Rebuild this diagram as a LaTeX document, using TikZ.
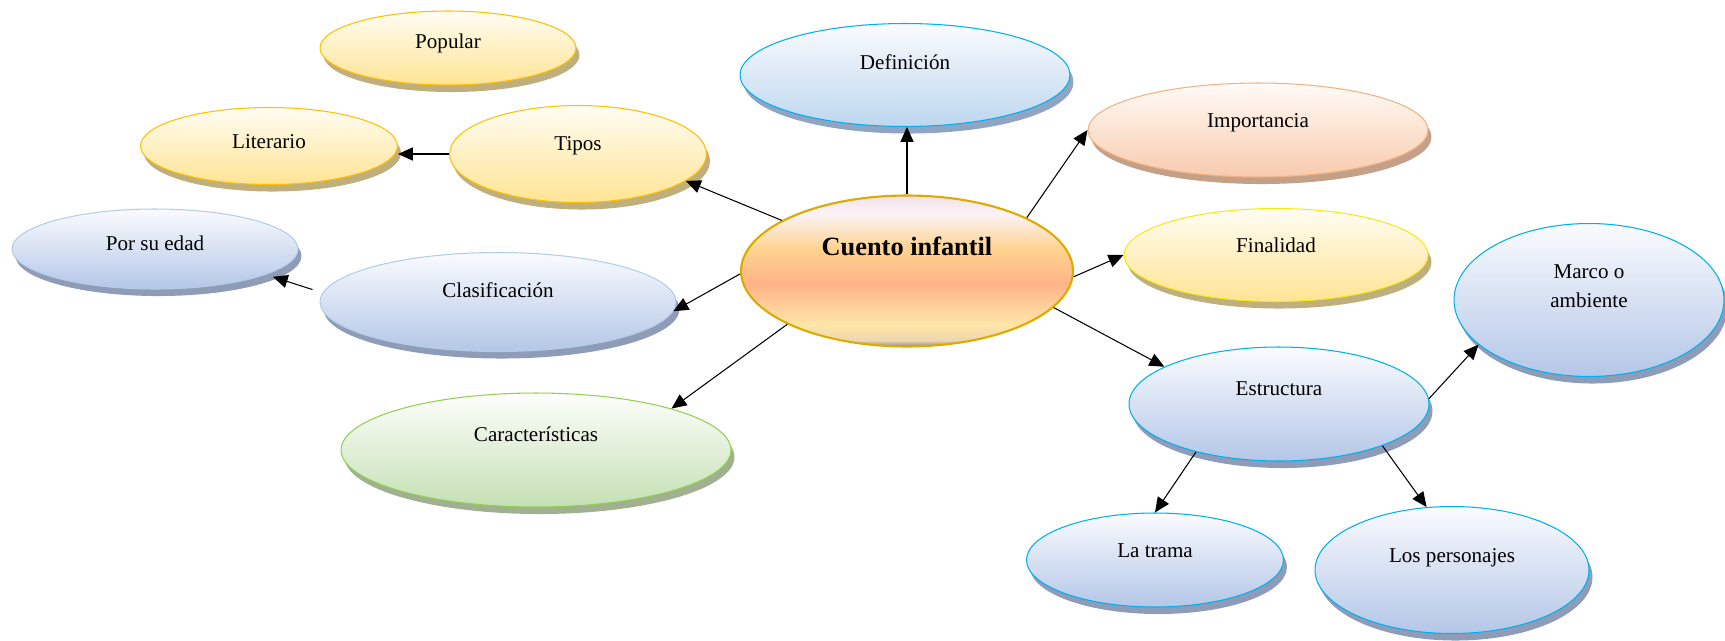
\documentclass[tikz,border=0pt]{standalone}
\usepackage{fontspec}
\setmainfont{Liberation Serif}
\usetikzlibrary{shapes.geometric,shadows,arrows.meta}

\definecolor{ytop}{RGB}{255,253,243}
\definecolor{ybot}{RGB}{255,228,148}
\definecolor{ybord}{RGB}{255,192,0}
\definecolor{yline}{RGB}{245,235,20}
\definecolor{yshad}{RGB}{190,175,125}
\definecolor{btop}{RGB}{250,251,254}
\definecolor{bbot}{RGB}{180,199,231}
\definecolor{bbord}{RGB}{0,176,240}
\definecolor{bpale}{RGB}{180,205,230}
\definecolor{bshad}{RGB}{142,156,184}
\definecolor{dbot}{RGB}{189,215,238}
\definecolor{dshad}{RGB}{143,165,195}
\definecolor{otop}{RGB}{255,251,247}
\definecolor{obot}{RGB}{248,203,173}
\definecolor{obord}{RGB}{244,177,131}
\definecolor{oshad}{RGB}{196,160,136}
\definecolor{gtop}{RGB}{253,254,252}
\definecolor{gbot}{RGB}{197,224,180}
\definecolor{gbord}{RGB}{146,208,80}
\definecolor{gshad}{RGB}{160,176,144}
\definecolor{cborder}{RGB}{222,170,0}
\definecolor{cu1}{RGB}{150,136,136}
\definecolor{cu2}{RGB}{236,214,178}
\definecolor{cu3}{RGB}{255,230,168}
\definecolor{cu4}{RGB}{255,179,136}
\definecolor{cu5}{RGB}{255,210,142}
\definecolor{cu6}{RGB}{251,243,247}
\definecolor{cu7}{RGB}{240,226,234}

\pgfdeclareverticalshading{cuentofill}{100bp}{color(0bp)=(cu1); color(25bp)=(cu1); color(27bp)=(cu2); color(32bp)=(cu3); color(46bp)=(cu4); color(57bp)=(cu5); color(69bp)=(cu6); color(75bp)=(cu7); color(100bp)=(cu7)}

\tikzset{
    bubble/.style={ellipse, inner sep=0pt, line width=0.6pt},
    yellowbub/.style={bubble, draw=ybord, top color=ytop, bottom color=ybot, general shadow={fill=yshad, shadow xshift=2pt, shadow yshift=-4pt}},
    bluebub/.style={bubble, draw=bbord, top color=btop, bottom color=bbot, general shadow={fill=bshad, shadow xshift=2pt, shadow yshift=-4pt}},
    defbub/.style={bubble, draw=bbord, top color=btop, bottom color=dbot, general shadow={fill=dshad, shadow xshift=2pt, shadow yshift=-4pt}},
    orangebub/.style={bubble, draw=obord, top color=otop, bottom color=obot, general shadow={fill=oshad, shadow xshift=2pt, shadow yshift=-4pt}},
    greenbub/.style={bubble, draw=gbord, top color=gtop, bottom color=gbot, general shadow={fill=gshad, shadow xshift=2pt, shadow yshift=-4pt}},
    centerbub/.style={ellipse, inner sep=0pt, draw=cborder, line width=1.2pt, shading=cuentofill},
    link/.style={line width=0.6pt, -{Triangle[length=8.5pt, width=7.5pt]}}
}

\begin{document}
\begin{tikzpicture}[x=0.02cm, y=-0.02cm, font=\fontsize{12}{16.5}\selectfont]
        \useasboundingbox (0,0) rectangle (1725,640);
        \node [yellowbub, minimum width=5.12cm, minimum height=1.48cm, label={[yshift=2.5pt]center:Popular}] (popular) at (448,48) {};
        \node [yellowbub, minimum width=5.14cm, minimum height=1.54cm, label={[yshift=2.5pt]center:Literario}] (literario) at (269,146) {};
        \node [yellowbub, minimum width=5.14cm, minimum height=1.94cm, label={[yshift=4.8pt]center:Tipos}] (tipos) at (578,154) {};
        \node [bluebub, draw=bpale, minimum width=5.72cm, minimum height=1.60cm, label={[yshift=3.2pt]center:Por su edad}] (edad) at (155,249) {};
        \node [bluebub, draw=bpale, minimum width=7.12cm, minimum height=1.98cm, label={[yshift=6.6pt]center:Clasificación}] (clasificacion) at (498,302) {};
        \node [greenbub, minimum width=7.80cm, minimum height=2.28cm, label={[yshift=9pt]center:Características}] (caracteristicas) at (536,450) {};
        \node [defbub, minimum width=6.60cm, minimum height=2.06cm, label={[yshift=7.2pt]center:Definición}] (definicion) at (905,75) {};
        \node [orangebub, minimum width=6.80cm, minimum height=1.88cm, label={[yshift=4.2pt]center:Importancia}] (importancia) at (1258,130) {};
        \node [yellowbub, draw=yline, minimum width=6.08cm, minimum height=1.86cm, label={[yshift=5.5pt]center:Finalidad}] (finalidad) at (1276,255) {};
        \node [bluebub, minimum width=5.40cm, minimum height=3.06cm, label={[align=center, yshift=7.8pt]center:Marco o\\ambiente}] (marco) at (1589,300) {};
        \node [bluebub, minimum width=6.00cm, minimum height=2.28cm, label={[yshift=8.8pt]center:Estructura}] (estructura) at (1279,404) {};
        \node [bluebub, minimum width=5.14cm, minimum height=1.88cm, label={[yshift=5.4pt]center:La trama}] (trama) at (1155,560) {};
        \node [bluebub, minimum width=5.48cm, minimum height=2.54cm, label={[yshift=7.1pt]center:Los personajes}] (personajes) at (1452,570) {};
        \node [centerbub, minimum width=6.64cm, minimum height=3.02cm, label={[yshift=14.1pt, font=\fontsize{15}{18}\selectfont\bfseries]center:Cuento infantil}] (cuento) at (907,271) {};
        \draw [link] (tipos.west) -- (tipos.west -| literario.east);
        \draw [link] (cuento.158) -- (tipos.-14);
        \draw [link] (cuento.north) -- (cuento.north |- definicion.south);
        \draw [link] (cuento.24) -- (importancia.west);
        \draw [link] (cuento.-2) -- (finalidad.west);
        \draw [link] (cuento.-14) -- (estructura.162);
        \draw [link] (cuento.181) -- (clasificacion.-3);
        \draw [link] (cuento.204) -- (caracteristicas.17);
        \draw [link, shorten <=6pt, shorten >=4pt] (clasificacion.177) -- (edad.-13);
        \draw [link] (estructura.2) -- (marco.202);
        \draw [link] (estructura.210) -- (trama.north);
        \draw [link] (estructura.-22) -- (personajes.112);
    \end{tikzpicture}
\end{document}
